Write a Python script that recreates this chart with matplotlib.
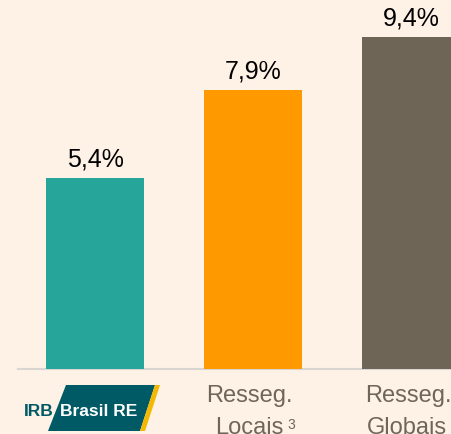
import matplotlib
matplotlib.use("Agg")
import matplotlib.pyplot as plt
from matplotlib.patches import Polygon

## datos del grafico
categorias = ["IRB Brasil RE", "Resseg.\nLocais", "Resseg.\nGlobais"]
notas = ["", "3", "4"]
valores = [5.4, 7.9, 9.4]
etiquetas = ["5,4%", "7,9%", "9,4%"]
colores = ["#26A69A", "#FF9900", "#6E6557"]

fondo = "#FEF1E6"
gris_texto = "#6F665A"

plt.rcParams['font.family'] = ['Liberation Sans', 'DejaVu Sans']

fig = plt.figure(figsize=(4.52, 4.35), dpi=100, facecolor=fondo)
ax = fig.add_axes([0, 0, 1, 1])
ax.set_facecolor(fondo)

x = list(range(len(valores)))
ax.bar(x, valores, width=0.62, color=colores, zorder=2)

## escala: 35.3 px por unidad, base a 65 px del borde inferior
ax.set_xlim(-0.601, 2.259)
ax.set_ylim(-65 / 35.3, 370 / 35.3)
ax.axis("off")

## linea base
ax.plot([-0.49, 2.3], [0, 0], color="#D9D5D0", lw=1.5, zorder=1, clip_on=False)

## etiquetas de valor
for xi, v, t in zip(x, valores, etiquetas):
    ax.annotate(t, (xi, v), xytext=(0, 9), textcoords="offset points",
                ha="center", va="baseline", fontsize=18, color="black")

## categorias (texto)
for xi, cat, n in zip(x[1:], categorias[1:], notas[1:]):
    l1, l2 = cat.split("\n")
    t2 = ax.text(xi - 0.025, -1.33, l2, ha="center", va="top", fontsize=17,
                 color=gris_texto)
    ax.text(xi - 0.02, -0.42, l1, ha="center", va="top", fontsize=17, color=gris_texto)
    ax.annotate(n, (1.0, 1.0), xycoords=t2, xytext=(3, -1),
                textcoords="offset points", ha="left", va="top",
                fontsize=10, color=gris_texto)

## logo IRB Brasil RE
px = fig.transFigure.inverted()
def fp(xp, yp):
    return px.transform((xp, 435 - yp))

logo = Polygon([fp(66, 386), fp(155, 386), fp(140, 432), fp(48, 432)],
               closed=True, transform=fig.transFigure, facecolor="#005A66",
               edgecolor="none")
fig.patches.append(logo)
raya = Polygon([fp(155, 386), fp(160, 386), fp(145, 432), fp(140, 432)],
               closed=True, transform=fig.transFigure, facecolor="#F5B800",
               edgecolor="none")
fig.patches.append(raya)
fig.text(*fp(24, 412), "IRB", fontsize=12.5, fontweight="bold",
         color="#005A66", ha="left", va="center")
fig.text(*fp(60, 412), "Brasil RE", fontsize=12.5, fontweight="bold",
         color="white", ha="left", va="center")

fig.savefig("out.png", dpi=100, facecolor=fondo)
